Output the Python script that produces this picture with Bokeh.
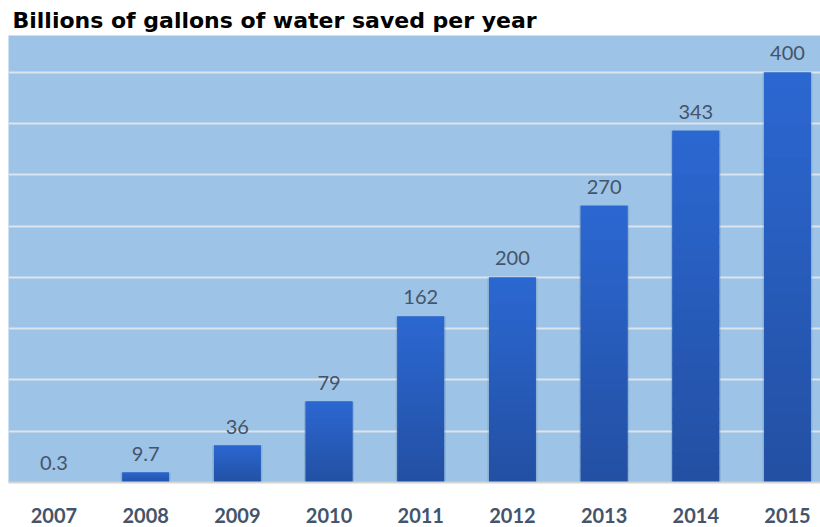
from bokeh.plotting import figure
from bokeh.models import Range1d, FixedTicker, ColumnDataSource
from bokeh.core.properties import value
from bokeh.embed import file_html
from bokeh.resources import INLINE

years = ["2007", "2008", "2009", "2010", "2011", "2012", "2013", "2014", "2015"]
saved = [0.3, 9.7, 36, 79, 162, 200, 270, 343, 400]
labels = ["0.3", "9.7", "36", "79", "162", "200", "270", "343", "400"]
grid_ticks = [50, 100, 150, 200, 250, 300, 350, 400]

xs = list(range(len(years)))

p = figure(width=820, height=527, output_backend="svg", toolbar_location=None,
           x_range=Range1d(-0.496, 8.36), y_range=Range1d(0, 436),
           min_border_left=8, min_border_right=0, min_border_top=35, min_border_bottom=45)

p.title.text = "Billions of gallons of water saved per year"
p.title.text_font = "DejaVu Sans"
p.title.text_font_style = "bold"
p.title.text_font_size = "22px"
p.title.text_color = "#000000"
p.title.align = "left"
p.title.offset = 4
p.title.standoff = 5

p.background_fill_color = "#9DC3E6"
p.border_fill_color = "#FFFFFF"
p.outline_line_color = None

p.yaxis.visible = False
p.ygrid.ticker = FixedTicker(ticks=grid_ticks)
p.ygrid.grid_line_color = "#DCE4EC"
p.ygrid.grid_line_width = 2
p.xgrid.visible = False

# soft shadow behind bars
p.vbar(x=xs, top=saved, width=0.545, fill_color="#4A6F9C", fill_alpha=0.22, line_color=None)

# gradient bars drawn as stacked slices
top_c = (44, 104, 210)
bot_c = (35, 80, 162)
N = 24
p.vbar(x=xs, top=saved, width=0.51, fill_color="#2A5EBA", line_color=None)
for k in range(N):
    t = (k + 0.5) / N
    r = int(bot_c[0] + (top_c[0] - bot_c[0]) * t)
    g = int(bot_c[1] + (top_c[1] - bot_c[1]) * t)
    b = int(bot_c[2] + (top_c[2] - bot_c[2]) * t)
    col = "#%02x%02x%02x" % (r, g, b)
    bottoms = [v * k / N for v in saved]
    tops = [min(v, v * (k + 1.1) / N) for v in saved]
    p.vbar(x=xs, bottom=bottoms, top=tops, width=0.51, fill_color=col, line_color=None)

src = ColumnDataSource(dict(x=xs, y=saved, t=labels))
p.text(x="x", y="y", text="t", source=src, text_align="center", text_baseline="bottom",
       y_offset=-12, text_font=value("Lato"), text_font_size="20px", text_color="#44546A")

ax = p.xaxis
ax.ticker = FixedTicker(ticks=xs)
ax.major_label_overrides = {i: y for i, y in zip(xs, years)}
ax.major_tick_line_color = None
ax.minor_tick_line_color = None
ax.major_tick_out = 0
ax.major_tick_in = 0
ax.axis_line_color = "#D4D4D4"
ax.axis_line_width = 2
ax.major_label_standoff = 25
ax.major_label_text_font = "Lato"
ax.major_label_text_font_style = "bold"
ax.major_label_text_font_size = "20px"
ax.major_label_text_color = "#44546A"

open("out.html", "w").write(file_html(p, INLINE))
